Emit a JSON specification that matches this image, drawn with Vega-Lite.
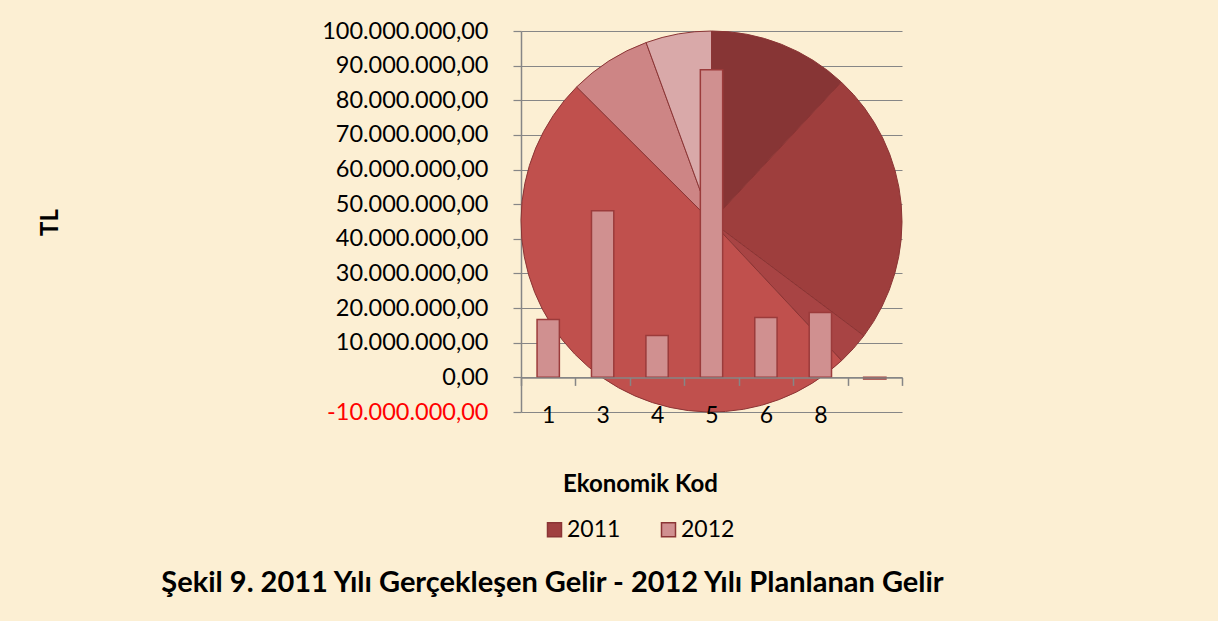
{
  "$schema": "https://vega.github.io/schema/vega-lite/v6.json",
  "autosize": "none",
  "width": 381,
  "height": 381,
  "padding": {"left": 521, "top": 31, "right": 316, "bottom": 209},
  "background": "#fcefd3",
  "config": {
    "view": {"stroke": null},
    "font": "Lato",
    "locale": {"number": {"decimal": ",", "thousands": ".", "grouping": [3], "currency": ["", ""], "minus": "-"}},
    "legend": {"symbolStrokeColor": "#8b3535", "symbolStrokeWidth": 1.5}
  },
  "title": {
    "text": "Şekil 9. 2011 Yılı Gerçekleşen Gelir - 2012 Yılı Planlanan Gelir",
    "orient": "bottom",
    "anchor": "middle",
    "dx": -159,
    "offset": 27,
    "font": "Lato",
    "fontSize": 29,
    "fontWeight": "bold",
    "color": "black"
  },
  "data": {
    "values": [
      {"code": "1", "v2011": 22700000, "v2012": 16700000},
      {"code": "3", "v2011": 44300000, "v2012": 48100000},
      {"code": "4", "v2011": 5300000, "v2012": 12100000},
      {"code": "5", "v2011": 94000000, "v2012": 88800000},
      {"code": "6", "v2011": 13200000, "v2012": 17300000},
      {"code": "8", "v2011": 10600000, "v2012": 18700000},
      {"code": " ", "v2011": 0, "v2012": -500000}
    ]
  },
  "layer": [
    {
      "transform": [{"filter": "datum.v2011 > 0"}],
      "mark": {"type": "arc", "outerRadius": 190.5, "stroke": "#8b3535", "strokeWidth": 1},
      "encoding": {
        "theta": {"field": "v2011", "type": "quantitative", "stack": true},
        "order": {"field": "code", "type": "ordinal", "sort": "ascending"},
        "fill": {
          "field": "code", "type": "nominal",
          "scale": {"domain": ["1", "3", "4", "5", "6", "8"], "range": ["#873535", "#9e3e3d", "#a84444", "#c0504d", "#cd8585", "#d9a9a9"]},
          "legend": null
        }
      }
    },
    {
      "mark": {"type": "bar", "width": {"band": 0.41}, "stroke": "#9b3b3b", "strokeWidth": 1.5},
      "encoding": {
        "x": {
          "field": "code", "type": "ordinal",
          "sort": ["1", "3", "4", "5", "6", "8", " "],
          "scale": {"paddingInner": 0, "paddingOuter": 0},
          "axis": {
            "offset": -34.6,
            "zindex": 1,
            "tickBand": "extent",
            "domainColor": "#868686",
            "domainWidth": 1.5,
            "tickColor": "#868686",
            "tickSize": 8,
            "tickWidth": 1.5,
            "labelAngle": 0,
            "labelFont": "Lato",
            "labelFontSize": 23,
            "labelColor": "black",
            "labelPadding": 19,
            "title": "Ekonomik Kod",
            "titleFont": "Lato",
            "titleFontSize": 24,
            "titleFontWeight": "bold",
            "titleColor": "black",
            "titleX": 119,
            "titleY": 107,
            "titleAlign": "center",
            "titleBaseline": "middle"
          }
        },
        "y": {
          "field": "v2012", "type": "quantitative",
          "scale": {"domain": [-10000000, 100000000], "nice": false, "zero": false},
          "axis": {
            "values": [-10000000, 0, 10000000, 20000000, 30000000, 40000000, 50000000, 60000000, 70000000, 80000000, 90000000, 100000000],
            "format": ",.2f",
            "labelOverlap": false,
            "grid": true,
            "gridColor": "#868686",
            "gridWidth": 1.2,
            "gridOpacity": 1,
            "domainColor": "#868686",
            "domainWidth": 1.5,
            "tickColor": "#868686",
            "tickSize": 8,
            "tickWidth": 1.2,
            "labelFont": "Lato",
            "labelFontSize": 23.5,
            "labelPadding": 25,
            "labelColor": {"condition": {"test": "datum.value < 0", "value": "#ff0000"}, "value": "black"},
            "title": "TL",
            "titleFont": "Lato",
            "titleFontSize": 24,
            "titleFontWeight": "bold",
            "titleColor": "black",
            "titleX": -471,
            "titleY": 191,
            "titleAngle": -90,
            "titleAlign": "center",
            "titleBaseline": "middle"
          }
        },
        "color": {
          "condition": {"test": "datum.v2012 < 0", "value": "#c0504d"},
          "datum": "2012",
          "type": "nominal",
          "scale": {"domain": ["2011", "2012"], "range": ["#a04040", "#d09090"]},
          "legend": {
            "title": null,
            "orient": "none",
            "direction": "horizontal",
            "legendX": 22,
            "legendY": 487,
            "symbolType": "square",
            "symbolSize": 196,
            "labelFont": "Lato",
            "labelFontSize": 23,
            "labelColor": "black",
            "labelOffset": 1,
            "columnPadding": 36
          }
        }
      }
    }
  ]
}
